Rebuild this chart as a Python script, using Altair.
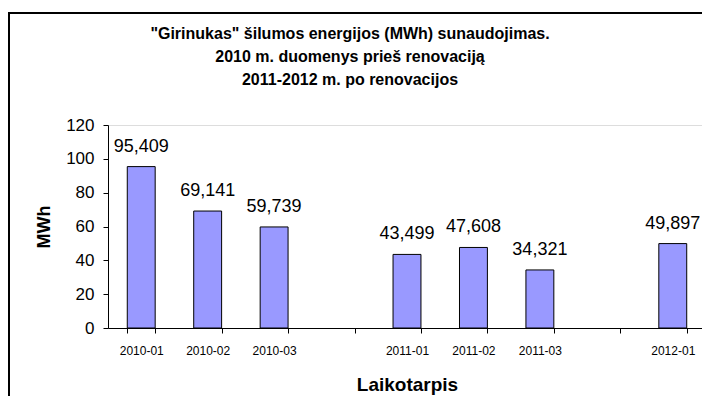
import altair as alt
import pandas as pd

categories = ["2010-01", "2010-02", "2010-03", "2011-01", "2011-02", "2011-03", "2012-01"]
values = [95.409, 69.141, 59.739, 43.499, 47.608, 34.321, 49.897]
x_domain = ["2010-01", "2010-02", "2010-03", "gap1", "2011-01", "2011-02", "2011-03", "gap2", "2012-01"]
y_ticks = [0, 20, 40, 60, 80, 100, 120]
title_lines = [
    "\"Girinukas\" šilumos energijos (MWh) sunaudojimas.",
    "2010 m. duomenys prieš renovaciją",
    "2011-2012 m. po renovacijos",
]

df = pd.DataFrame({"period": categories, "value": values})

FONT = "Liberation Sans"
W, H = 598, 203

x_enc = alt.X(
    "period:N",
    scale=alt.Scale(domain=x_domain, paddingInner=0.58, paddingOuter=0.29),
    axis=alt.Axis(
        title="Laikotarpis",
        labelAngle=0,
        labelExpr="indexof(datum.label, 'gap') == 0 ? '' : datum.label",
        tickBand="extent",
        tickSize=5,
        labelPadding=12,
        labelFontSize=12,
        titleFontSize=19,
        titleFontWeight="bold",
        titlePadding=19,
        domainColor="#000000",
        tickColor="#000000",
    ),
)

y_enc = alt.Y(
    "value:Q",
    scale=alt.Scale(domain=[0, 120]),
    axis=alt.Axis(
        title="MWh",
        values=y_ticks,
        tickCount=7,
        grid=False,
        labelOverlap=False,
        tickSize=5,
        labelPadding=9,
        labelFontSize=17,
        titleFontSize=18,
        titleFontWeight="bold",
        titlePadding=12,
        domainColor="#000000",
        tickColor="#000000",
    ),
)

bars = alt.Chart(df).mark_bar(
    color="#9999FF", stroke="#000000", strokeWidth=1
).encode(x=x_enc, y=y_enc)

labels = alt.Chart(df).transform_calculate(
    label="replace(format(datum.value, '.3f'), '.', ',')"
).mark_text(
    baseline="alphabetic", dy=-15, fontSize=18, font=FONT, color="#000000"
).encode(x=x_enc, y=y_enc, text="label:N")

border = alt.Chart(alt.Data(values=[{}])).mark_rect(
    fill=None, stroke="#000000", strokeWidth=2
).encode(
    x=alt.value(-99),
    x2=alt.value(W + 60),
    y=alt.value(-112),
    y2=alt.value(H + 200),
)

chart = alt.layer(border, bars, labels).properties(
    width=W,
    height=H,
    padding={"left": 100, "top": 117, "right": -4, "bottom": 68},
    autosize=alt.AutoSizeParams(type="none"),
    title=alt.TitleParams(
        text=title_lines,
        fontSize=16,
        fontWeight="bold",
        font=FONT,
        lineHeight=23,
        anchor="middle",
        dx=-57,
        offset=-76,
        color="#000000",
    ),
).configure_view(
    fill="#C0C0C0", stroke="#808080", strokeWidth=1
).configure_axis(
    labelFont=FONT, titleFont=FONT, labelColor="#000000", titleColor="#000000"
).configure(background="#FFFFFF")

chart.save("out.html", embed_options={"renderer": "svg", "actions": False})
